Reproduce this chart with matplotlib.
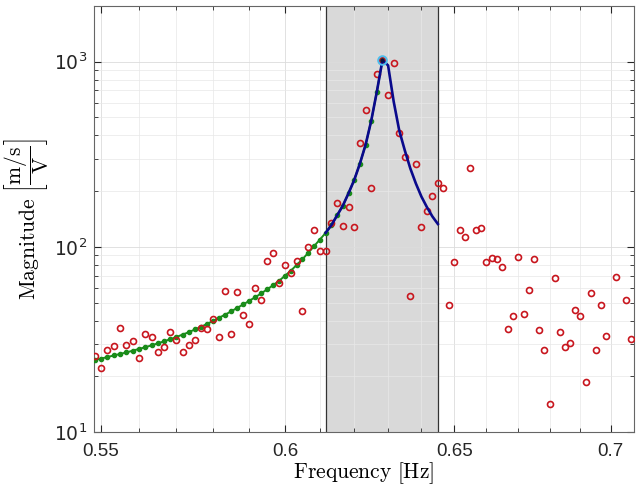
import numpy as np
import matplotlib
matplotlib.use('Agg')
import matplotlib.pyplot as plt
from matplotlib.ticker import FixedLocator, FixedFormatter, NullFormatter

plt.rcParams['font.family'] = 'Liberation Sans'

# frequency bins (df = 1/600 Hz), k = 329 ... 424
freq = np.arange(329, 425) / 600.0

# measured magnitude (red circles), one per bin
measured = [25.7, 22.3, 27.6, 29.3, 36.4, 29.4, 30.9, 25.1, 33.9, 32.5,
            27.0, 28.8, 34.6, 31.5, 27.0, 29.5, 31.4, 36.6, 35.9, 40.8,
            32.7, 58.0, 33.9, 57.1, 43.1, 38.2, 60.0, 51.5, 84.3, 92.5,
            64.1, 79.6, 72.1, 84.3, 45.3, 99.6, 123.1, 94.8, 95.1, 134.4,
            173.6, 129.9, 163.9, 128.8, 366, 550, 209, 861, 1021, 663,
            985, 412, 305, 54.6, 282, 128.8, 156, 189, 221, 208,
            48.6, 82.7, 123.6, 112.8, 267, 123.1, 127.2, 82.9, 87.5, 85.8,
            78.3, 35.9, 42.2, 88.3, 43.6, 58.3, 85.8, 35.6, 27.6, 14.2,
            68.0, 34.6, 28.8, 30.3, 45.5, 42.4, 18.6, 56.6, 27.9, 48.4,
            32.9, 8.0, 68.8, 8.6, 51.5, 31.8]

# fitted model magnitude at bins k = 329 ... 387
model = [24.5, 24.9, 25.4, 25.9, 26.4, 26.9, 27.5, 28.1, 28.7, 29.4,
         30.1, 30.9, 31.7, 32.6, 33.6, 34.6, 35.8, 37.0, 38.4, 39.8,
         41.5, 43.1, 44.9, 46.9, 48.9, 51.2, 53.5, 56.1, 59.0, 62.1,
         65.5, 69.8, 74.3, 79.8, 85.8, 92.9, 100.9, 109.5, 119.0, 131,
         148, 167, 195, 230, 282, 356, 480, 690, 1021, 955,
         610, 425, 332, 265, 220, 187, 164, 146, 133]

model_freq = freq[:len(model)]
i_peak = 48          # bin 377
i_band0 = 38         # bin 367
band = (367 / 600.0, 387 / 600.0)

fig = plt.figure(figsize=(6.41, 4.87), dpi=100)
ax = fig.add_axes([94 / 641, 1 - 432 / 487, 540 / 641, 426 / 487])
ax.set_xscale('log')
ax.set_yscale('log')

ax.axvspan(band[0], band[1], facecolor='#d9d9d9', edgecolor='none', zorder=1)
ax.axvline(band[0], color='#333333', lw=0.9, zorder=1.6)
ax.axvline(band[1], color='#333333', lw=0.9, zorder=1.6)

ax.plot(model_freq[:i_peak + 1], model[:i_peak + 1], '.-', color='#1a8c1a',
        lw=1.4, ms=6, zorder=3)
ax.plot(model_freq[i_band0:], model[i_band0:], '-', color='#0a0a8c',
        lw=1.9, zorder=4)
ax.plot(freq, measured, 'o', mfc='none', mec='#c8161e', ms=4.3, mew=1.2,
        zorder=3.5)
ax.plot(model_freq[i_peak], model[i_peak], 'o', mfc='none', mec='#4dbeee',
        ms=6.2, mew=1.4, zorder=5)
ax.plot(model_freq[i_peak], model[i_peak], '.', color='#101040', ms=4, zorder=5)

ax.set_xlim(0.5482, 0.7077)
ax.set_ylim(10, 2000)

ax.xaxis.set_major_locator(FixedLocator([0.55, 0.6, 0.65, 0.7]))
ax.xaxis.set_major_formatter(FixedFormatter(['0.55', '0.6', '0.65', '0.7']))
ax.xaxis.set_minor_locator(FixedLocator(np.arange(55, 71) / 100.0))
ax.xaxis.set_minor_formatter(NullFormatter())
ax.yaxis.set_major_locator(FixedLocator([10, 100, 1000]))
ax.yaxis.set_major_formatter(FixedFormatter([r'$10^1$', r'$10^2$', r'$10^3$']))
ax.yaxis.set_minor_formatter(NullFormatter())

ax.set_axisbelow('line')
ax.grid(True, which='major', color='#dcdcdc', lw=0.6)
ax.grid(True, which='minor', color='#e8e8e8', lw=0.5)

ax.tick_params(which='both', direction='in', top=True, right=True,
               labelsize=13.5, colors='#262626')
ax.tick_params(which='major', length=5)
ax.tick_params(which='minor', length=3)
ax.tick_params(axis='x', pad=8)
ax.tick_params(axis='y', pad=5)
for s in ax.spines.values():
    s.set_color('#666666')
    s.set_linewidth(0.8)

ax.set_xlabel(r'$\mathrm{Frequency}\ [\mathrm{Hz}]$', fontsize=15.5,
              math_fontfamily='cm', labelpad=0)
ax.set_ylabel(r'$\mathrm{Magnitude}\ \left[\dfrac{\mathrm{m/s}}{\mathrm{V}}\right]$',
              fontsize=15.5, math_fontfamily='cm', labelpad=2)

fig.savefig('out.png', dpi=100)
